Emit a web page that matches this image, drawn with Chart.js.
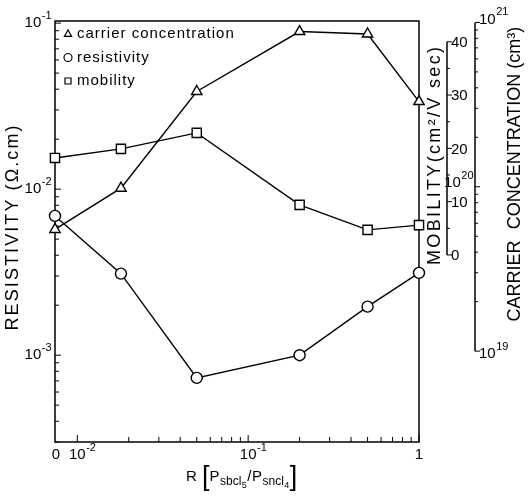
<!DOCTYPE html>
<html>
<head>
<meta charset="utf-8">
<script src="https://cdn.jsdelivr.net/npm/chart.js@4/dist/chart.umd.min.js"></script>
<style>
    body { margin: 0; background: #fff; }
    canvas { display: block; }
</style>
</head>
<body>
<canvas id="chart" width="531" height="499"></canvas>
<script>
// R = P(SbCl5) / P(SnCl4); the R = 0 sample is drawn on the left edge of the log axis
const ratios = [0, 0.018, 0.05, 0.2, 0.5, 1];
const resistivity = [6.9e-3, 3.1e-3, 7.3e-4, 1.0e-3, 1.96e-3, 3.13e-3];
const mobility = [18.2, 19.9, 22.9, 9.4, 4.7, 5.6];
const carrierConc = [5.5e19, 9.8e19, 3.8e20, 8.8e20, 8.5e20, 3.3e20];

const xTicks = [0.01, 0.1, 1];
const resTicks = [1e-3, 1e-2, 1e-1];
const mobTicks = [0, 10, 20, 30, 40];
const carTicks = [1e19, 1e20, 1e21];

const X_ZERO = 0.0074;
const FONT = '"Liberation Sans", Arial, sans-serif';

function points(values) {
    return ratios.map((r, i) => ({ x: r === 0 ? X_ZERO : r, y: values[i] }));
}

function logTicks(min, max) {
    const out = [];
    for (let e = Math.floor(Math.log10(min)); e <= Math.ceil(Math.log10(max)); e++) {
        for (let m = 1; m <= 9; m++) {
            const v = m * Math.pow(10, e);
            if (v >= min * 0.999 && v <= max * 1.001) out.push({ v: v, major: m === 1 });
        }
    }
    return out;
}

function hLine(ctx, x1, y1, x2, y2) {
    ctx.beginPath();
    ctx.moveTo(x1, y1);
    ctx.lineTo(x2, y2);
    ctx.stroke();
}

// "10" with a raised exponent; align = 'left' | 'right' | 'center' (center on the base)
function powText(ctx, v, x, y, align) {
    const e = Math.round(Math.log10(v));
    const base = e === 0 ? '1' : '10';
    const exp = e === 0 || e === 1 ? '' : String(e);
    ctx.font = '15px ' + FONT;
    const bw = ctx.measureText(base).width;
    ctx.font = '11px ' + FONT;
    const ew = ctx.measureText(exp).width;
    let x0 = x;
    if (align === 'right') x0 = x - bw - ew;
    if (align === 'center') x0 = x - bw / 2;
    ctx.textAlign = 'left';
    ctx.textBaseline = 'middle';
    ctx.font = '15px ' + FONT;
    ctx.fillText(base, x0, y);
    ctx.font = '11px ' + FONT;
    ctx.fillText(exp, x0 + bw + 0.5, y - 7);
}

function vTitle(ctx, text, cx, cy, size, len) {
    ctx.save();
    ctx.font = size + 'px ' + FONT;
    ctx.letterSpacing = '0px';
    const w = ctx.measureText(text).width;
    const sp = Math.max(0, (len - w) / (text.length - 1));
    ctx.letterSpacing = sp.toFixed(2) + 'px';
    ctx.translate(cx, cy);
    ctx.rotate(-Math.PI / 2);
    ctx.textAlign = 'center';
    ctx.textBaseline = 'middle';
    ctx.fillText(text, sp / 2, 0);
    ctx.restore();
}

function marker(ctx, style, x, y, r) {
    ctx.beginPath();
    if (style === 'circle') {
        ctx.arc(x, y, r, 0, Math.PI * 2);
    } else if (style === 'rect') {
        ctx.rect(x - r * 0.75, y - r * 0.75, r * 1.5, r * 1.5);
    } else {
        ctx.moveTo(x, y - r);
        ctx.lineTo(x + r * 0.9, y + r * 0.6);
        ctx.lineTo(x - r * 0.9, y + r * 0.6);
        ctx.closePath();
    }
    ctx.fillStyle = '#fff';
    ctx.fill();
    ctx.stroke();
}

const paperAxes = {
    id: 'paperAxes',
    beforeDatasetsDraw(chart) {
        const { ctx, chartArea: a, scales } = chart;
        ctx.save();
        ctx.strokeStyle = '#000';
        ctx.lineWidth = 1.5;
        ctx.strokeRect(a.left, a.top, a.right - a.left, a.bottom - a.top);
        ctx.lineWidth = 1;

        // resistivity axis, ticks pointing in
        logTicks(scales.y.min, scales.y.max).forEach(t => {
            const y = scales.y.getPixelForValue(t.v);
            hLine(ctx, a.left, y, a.left + (t.major ? 6 : 4), y);
        });
        // R axis, ticks pointing up
        logTicks(0.01, 1).forEach(t => {
            const x = scales.x.getPixelForValue(t.v);
            hLine(ctx, x, a.bottom, x, a.bottom - (t.major ? 7 : 5));
        });

        // mobility axis, only over 0..40
        const mx = a.right + 28;
        const m0 = scales.yMob.getPixelForValue(mobTicks[0]);
        const m1 = scales.yMob.getPixelForValue(mobTicks[mobTicks.length - 1]);
        ctx.lineWidth = 1.5;
        hLine(ctx, mx, m0, mx, m1);
        ctx.lineWidth = 1;
        for (let v = mobTicks[0]; v <= mobTicks[mobTicks.length - 1]; v += 5) {
            const y = scales.yMob.getPixelForValue(v);
            hLine(ctx, mx, y, mx + (v % 10 === 0 ? 5 : 3), y);
        }

        // carrier concentration axis, 1e19..1e21
        const cx = a.right + 56;
        const c0 = scales.yCar.getPixelForValue(carTicks[0]);
        const c1 = scales.yCar.getPixelForValue(carTicks[carTicks.length - 1]);
        ctx.lineWidth = 1.5;
        hLine(ctx, cx, c0, cx, c1);
        ctx.lineWidth = 1;
        logTicks(carTicks[0], carTicks[carTicks.length - 1]).forEach(t => {
            const y = scales.yCar.getPixelForValue(t.v);
            hLine(ctx, cx, y, cx + (t.major ? 5 : 3), y);
        });
        ctx.restore();
    },
    afterDraw(chart) {
        const { ctx, chartArea: a, scales } = chart;
        ctx.save();
        ctx.fillStyle = '#000';

        resTicks.forEach(v => powText(ctx, v, a.left - 4, scales.y.getPixelForValue(v), 'right'));

        ctx.font = '15px ' + FONT;
        ctx.textAlign = 'center';
        ctx.textBaseline = 'middle';
        ctx.fillText('0', a.left + 1, a.bottom + 13);
        xTicks.forEach(v => powText(ctx, v, scales.x.getPixelForValue(v), a.bottom + 13, 'center'));

        const mx = a.right + 28;
        ctx.font = '15px ' + FONT;
        ctx.textAlign = 'left';
        mobTicks.forEach(v => ctx.fillText(String(v), mx + 4, scales.yMob.getPixelForValue(v) + 1));

        const cx = a.right + 56;
        carTicks.forEach((v, i) => {
            const y = scales.yCar.getPixelForValue(v);
            if (i === 1) powText(ctx, v, cx - 2, y - 4, 'right');
            else powText(ctx, v, cx + 4, y + (i === 0 ? 3 : -3), 'left');
        });

        // axis titles
        vTitle(ctx, 'RESISTIVITY (\u03A9.cm)', 13, 228, 18, 205);
        vTitle(ctx, 'MOBILITY(cm\u00B2/V sec)', 435, 156, 18, 218);
        vTitle(ctx, 'CARRIER', 515, 281, 18, 74);
        vTitle(ctx, 'CONCENTRATION (cm\u00B3)', 515, 128, 18, 198);

        // x title: R [ P_sbcl5 / P_sncl4 ]
        const runs = [
            { t: 'R', s: 15, dy: 0 }, { t: ' ', s: 15, dy: 0 },
            { t: '[', s: 27, dy: 4 }, { t: 'P', s: 15, dy: 0 }, { t: 'sbcl', s: 12, dy: 4 },
            { t: '5', s: 9, dy: 7 }, { t: '/', s: 15, dy: 0 }, { t: 'P', s: 15, dy: 0 },
            { t: 'sncl', s: 12, dy: 4 }, { t: '4', s: 9, dy: 7 }, { t: ']', s: 27, dy: 4 }
        ];
        ctx.textAlign = 'left';
        ctx.textBaseline = 'alphabetic';
        let x = 186;
        const base = 481;
        runs.forEach(r => {
            ctx.font = (r.s > 20 ? '300 ' : '') + r.s + 'px ' + FONT;
            ctx.fillText(r.t, x, base + r.dy);
            x += ctx.measureText(r.t).width + (r.s > 20 ? 0 : 0.5);
        });

        // legend
        const legendItems = chart.data.datasets;
        ctx.strokeStyle = '#000';
        ctx.lineWidth = 1.2;
        legendItems.forEach((ds, i) => {
            const y = a.top + 13 + i * 23.5;
            marker(ctx, ds.pointStyle, a.left + 13, y, 4);
            ctx.font = '15px ' + FONT;
            ctx.letterSpacing = '1px';
            ctx.fillStyle = '#000';
            ctx.textBaseline = 'middle';
            ctx.fillText(ds.label, a.left + 22, y);
            ctx.letterSpacing = '0px';
        });
        ctx.restore();
    }
};

const lineStyle = {
    borderColor: '#000',
    backgroundColor: '#fff',
    pointBorderColor: '#000',
    pointBackgroundColor: '#fff',
    borderWidth: 1.4,
    pointBorderWidth: 1.4,
    tension: 0,
    fill: false,
    clip: false
};

new Chart(document.getElementById('chart'), {
    type: 'line',
    data: {
        datasets: [
            Object.assign({ label: 'carrier concentration', data: points(carrierConc), yAxisID: 'yCar', pointStyle: 'triangle', pointRadius: 6 }, lineStyle),
            Object.assign({ label: 'resistivity', data: points(resistivity), yAxisID: 'y', pointStyle: 'circle', pointRadius: 5.5 }, lineStyle),
            Object.assign({ label: 'mobility', data: points(mobility), yAxisID: 'yMob', pointStyle: 'rect', pointRadius: 6.5 }, lineStyle)
        ]
    },
    options: {
        responsive: false,
        animation: false,
        devicePixelRatio: 1,
        layout: { padding: { left: 55, right: 112, top: 21, bottom: 57 } },
        scales: {
            x: { type: 'logarithmic', min: X_ZERO, max: 1, display: false },
            y: { type: 'logarithmic', min: 3.15e-4, max: 0.103, display: false },
            yMob: { type: 'linear', min: -35.1, max: 43.9, display: false },
            yCar: { type: 'logarithmic', min: 2.8e18, max: 1.02e21, display: false }
        },
        plugins: {
            legend: { display: false },
            tooltip: { enabled: false }
        }
    },
    plugins: [paperAxes]
});
</script>
</body>
</html>
